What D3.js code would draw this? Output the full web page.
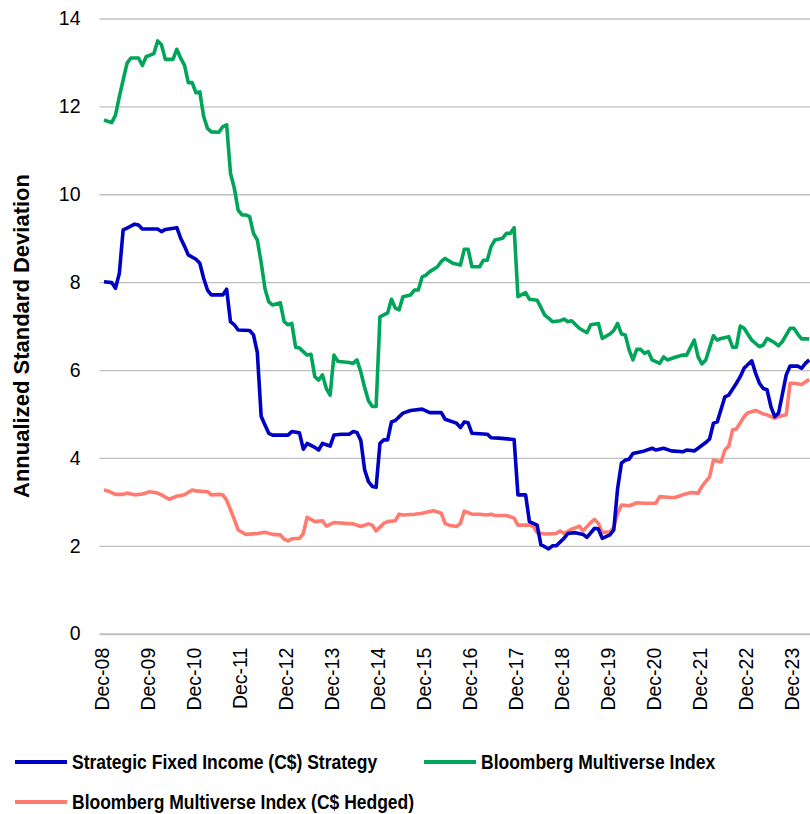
<!DOCTYPE html>
<html>
<head>
<meta charset="utf-8">
<script src="https://cdn.jsdelivr.net/npm/d3@7"></script>
<style>
  html, body { margin: 0; padding: 0; background: #fff; }
  svg { display: block; }
  .tick text { font-family: "Liberation Sans", Arial, sans-serif; fill: #000; }
</style>
</head>
<body>
<div id="app"></div>
<script>
// months counted from Dec-08
var sfiMonths = [0, 2, 3, 4, 5, 6, 8, 9, 10, 14, 15, 16, 19, 20, 21, 22, 24, 25, 26, 27, 28, 31, 32, 33, 34, 35, 38, 39, 40, 41, 42, 43, 44, 48, 49, 51, 52, 53, 55, 56, 57, 59, 60, 62, 64, 65, 66, 67, 68, 69, 70, 71, 72, 73, 74, 75, 76, 78, 80, 83, 85, 88, 89, 91, 92, 93, 94, 95, 96, 100, 101, 103, 107, 108, 110, 111, 113, 114, 115, 116, 117, 118, 120, 121, 123, 125, 126, 128, 129, 130, 132, 133, 134, 135, 136, 137, 138, 141, 143, 144, 146, 148, 151, 152, 154, 155, 157, 158, 159, 160, 162, 163, 165, 166, 167, 169, 170, 171, 172, 173, 174, 175, 176, 177, 178, 179, 181, 182, 183, 184];
var sfiValues = [8.01, 7.99, 7.86, 8.2, 9.19, 9.23, 9.32, 9.3, 9.21, 9.21, 9.15, 9.2, 9.24, 9.0, 8.82, 8.62, 8.52, 8.43, 8.09, 7.82, 7.71, 7.71, 7.84, 7.1, 7.03, 6.91, 6.9, 6.8, 6.4, 4.95, 4.75, 4.56, 4.52, 4.52, 4.6, 4.57, 4.2, 4.33, 4.24, 4.18, 4.33, 4.27, 4.52, 4.54, 4.54, 4.6, 4.58, 4.4, 3.73, 3.46, 3.35, 3.33, 4.33, 4.41, 4.41, 4.82, 4.85, 5.02, 5.08, 5.11, 5.03, 5.03, 4.88, 4.82, 4.79, 4.69, 4.82, 4.8, 4.56, 4.54, 4.46, 4.45, 4.42, 3.16, 3.16, 2.55, 2.47, 2.02, 1.98, 1.93, 2.0, 2.0, 2.17, 2.28, 2.3, 2.26, 2.19, 2.4, 2.38, 2.17, 2.25, 2.36, 3.3, 3.88, 3.95, 3.97, 4.1, 4.16, 4.22, 4.18, 4.22, 4.16, 4.14, 4.18, 4.16, 4.22, 4.35, 4.43, 4.79, 4.82, 5.39, 5.43, 5.7, 5.85, 6.04, 6.21, 5.93, 5.7, 5.58, 5.55, 5.17, 4.94, 5.02, 5.45, 5.89, 6.09, 6.09, 6.04, 6.15, 6.23];

var multiMonths = [0, 2, 3, 4, 6, 7, 9, 10, 11, 13, 14, 15, 16, 18, 19, 20, 21, 22, 23, 24, 25, 26, 27, 28, 30, 31, 32, 33, 34, 35, 36, 37, 38, 39, 40, 41, 42, 43, 44, 46, 47, 48, 49, 50, 51, 53, 54, 55, 56, 57, 58, 59, 60, 61, 62, 64, 65, 66, 67, 68, 69, 70, 71, 72, 74, 75, 76, 77, 78, 80, 81, 82, 83, 84, 85, 87, 88, 89, 91, 93, 94, 95, 96, 98, 99, 100, 101, 102, 104, 105, 106, 107, 108, 110, 111, 113, 115, 116, 117, 119, 120, 121, 122, 124, 126, 127, 129, 130, 132, 133, 134, 135, 136, 137, 138, 139, 140, 141, 142, 143, 145, 146, 147, 149, 151, 152, 154, 155, 156, 157, 159, 160, 161, 163, 164, 165, 166, 167, 169, 171, 172, 173, 175, 176, 177, 179, 180, 181, 182, 184];
var multiValues = [11.69, 11.63, 11.8, 12.22, 12.98, 13.1, 13.1, 12.93, 13.13, 13.2, 13.49, 13.4, 13.07, 13.07, 13.3, 13.1, 12.94, 12.54, 12.54, 12.31, 12.33, 11.77, 11.5, 11.42, 11.41, 11.54, 11.58, 10.48, 10.14, 9.64, 9.53, 9.53, 9.49, 9.11, 8.96, 8.45, 7.85, 7.55, 7.48, 7.53, 7.1, 7.03, 7.06, 6.52, 6.5, 6.34, 6.36, 5.85, 5.77, 5.89, 5.58, 5.43, 6.34, 6.2, 6.19, 6.17, 6.15, 6.23, 5.96, 5.6, 5.3, 5.17, 5.17, 7.21, 7.3, 7.61, 7.41, 7.37, 7.67, 7.71, 7.82, 7.82, 8.12, 8.16, 8.24, 8.35, 8.47, 8.54, 8.43, 8.39, 8.75, 8.75, 8.35, 8.35, 8.5, 8.5, 8.81, 8.96, 9.0, 9.11, 9.11, 9.24, 7.67, 7.76, 7.61, 7.59, 7.25, 7.18, 7.1, 7.12, 7.16, 7.1, 7.12, 6.95, 6.85, 7.03, 7.06, 6.72, 6.82, 6.9, 7.06, 6.82, 6.8, 6.46, 6.23, 6.47, 6.47, 6.38, 6.42, 6.23, 6.15, 6.3, 6.23, 6.29, 6.34, 6.34, 6.68, 6.3, 6.14, 6.23, 6.78, 6.68, 6.72, 6.76, 6.52, 6.52, 7.0, 6.95, 6.68, 6.53, 6.57, 6.72, 6.62, 6.55, 6.65, 6.95, 6.95, 6.82, 6.71, 6.71];

var hedgedMonths = [0, 1, 3, 5, 6, 8, 10, 12, 14, 15, 17, 19, 21, 23, 24, 27, 28, 30, 31, 32, 33, 34, 35, 37, 40, 42, 44, 46, 47, 48, 49, 51, 52, 53, 55, 57, 58, 60, 63, 65, 67, 69, 70, 71, 73, 74, 76, 77, 78, 81, 83, 85, 86, 88, 89, 90, 92, 93, 94, 96, 98, 100, 101, 102, 105, 106, 107, 108, 111, 112, 113, 115, 118, 119, 120, 122, 123, 124, 125, 127, 128, 129, 130, 132, 133, 134, 135, 137, 138, 139, 141, 144, 145, 148, 149, 151, 153, 155, 156, 158, 159, 161, 162, 163, 164, 165, 167, 168, 170, 172, 173, 175, 176, 178, 179, 180, 182, 183, 184];
var hedgedValues = [3.27, 3.25, 3.17, 3.17, 3.2, 3.16, 3.18, 3.23, 3.2, 3.16, 3.06, 3.13, 3.16, 3.27, 3.25, 3.23, 3.16, 3.17, 3.16, 3.04, 2.82, 2.6, 2.36, 2.26, 2.28, 2.31, 2.26, 2.25, 2.15, 2.11, 2.16, 2.17, 2.28, 2.65, 2.55, 2.57, 2.45, 2.53, 2.51, 2.5, 2.44, 2.5, 2.47, 2.34, 2.51, 2.55, 2.57, 2.72, 2.7, 2.72, 2.74, 2.78, 2.8, 2.74, 2.51, 2.47, 2.44, 2.51, 2.79, 2.72, 2.72, 2.7, 2.72, 2.69, 2.69, 2.66, 2.63, 2.47, 2.47, 2.44, 2.3, 2.27, 2.28, 2.34, 2.28, 2.38, 2.41, 2.45, 2.34, 2.53, 2.6, 2.51, 2.3, 2.32, 2.42, 2.74, 2.93, 2.91, 2.94, 2.98, 2.97, 2.97, 3.12, 3.1, 3.1, 3.16, 3.21, 3.2, 3.35, 3.57, 3.95, 3.91, 4.18, 4.27, 4.64, 4.66, 4.94, 5.03, 5.08, 5.0, 4.98, 4.9, 4.94, 4.98, 5.7, 5.7, 5.67, 5.73, 5.79];

var tickMonths = [0, 12, 24, 36, 48, 60, 72, 84, 96, 108, 120, 132, 144, 156, 168, 180];
var tickLabels = ['Dec-08', 'Dec-09', 'Dec-10', 'Dec-11', 'Dec-12', 'Dec-13', 'Dec-14', 'Dec-15', 'Dec-16', 'Dec-17', 'Dec-18', 'Dec-19', 'Dec-20', 'Dec-21', 'Dec-22', 'Dec-23'];
var yTicks = [0, 2, 4, 6, 8, 10, 12, 14];

var seriesNames = ['Strategic Fixed Income (C$) Strategy', 'Bloomberg Multiverse Index', 'Bloomberg Multiverse Index (C$ Hedged)'];
var seriesColors = ['#0000c4', '#00a55a', '#ff7b70'];

var width = 810, height = 814;
var left = 99.5;

var svg = d3.select('#app')
    .append('svg')
    .attr('width', width)
    .attr('height', height);

var x = d3.scaleLinear()
    .domain([0, 184.2])
    .range([104, 810]);

var y = d3.scaleLinear()
    .domain([0, 14])
    .range([633.7, 18.5]);

// y axis + gridlines
var yAxis = svg.append('g')
    .attr('transform', 'translate(' + left + ',0)')
    .call(d3.axisLeft(y)
        .tickValues(yTicks)
        .tickSize(-(width - left))
        .tickPadding(19)
        .tickFormat(d3.format('d')));
yAxis.select('.domain').remove();
yAxis.selectAll('.tick line')
    .attr('stroke', '#c0c0c0')
    .attr('stroke-width', function (d) { return d === 0 ? 2 : 1.3 });
yAxis.selectAll('.tick text')
    .style('font-size', '19.5px');

// x axis labels
var xAxis = svg.append('g')
    .attr('transform', 'translate(0,' + y(0) + ')')
    .call(d3.axisBottom(x)
        .tickValues(tickMonths)
        .tickSize(0)
        .tickFormat(function (d, i) { return tickLabels[i] }));
xAxis.select('.domain').remove();
xAxis.selectAll('.tick text')
    .style('font-size', '19.5px')
    .attr('text-anchor', 'end')
    .attr('transform', 'rotate(-90)')
    .attr('x', -14)
    .attr('y', -2)
    .attr('dy', '0.35em');

svg.append('text')
    .attr('transform', 'translate(28.5,336) rotate(-90)')
    .attr('text-anchor', 'middle')
    .style('font-family', '"Liberation Sans", Arial, sans-serif')
    .style('font-weight', 'bold')
    .style('font-size', '22px')
    .text('Annualized Standard Deviation');

var line = d3.line()
    .x(function (d) { return x(d[0]) })
    .y(function (d) { return y(d[1]) });

function zipSeries(months, values) {
    return months.map(function (m, i) { return [m, values[i]] });
}

var series = [
    zipSeries(sfiMonths, sfiValues),
    zipSeries(multiMonths, multiValues),
    zipSeries(hedgedMonths, hedgedValues)
];

svg.append('clipPath')
    .attr('id', 'plotClip')
    .append('rect')
    .attr('x', left).attr('y', 0)
    .attr('width', width - left).attr('height', height);

// draw order: hedged, multiverse, then strategy on top
[2, 1, 0].forEach(function (k) {
    svg.append('path')
        .attr('clip-path', 'url(#plotClip)')
        .attr('d', line(series[k]))
        .attr('fill', 'none')
        .attr('stroke', seriesColors[k])
        .attr('stroke-width', 3.6)
        .attr('stroke-linejoin', 'round');
});

// legend (narrow bold look: squeeze the text horizontally)
var legendPos = [[15, 762], [424, 762], [15, 802]];
var legend = svg.selectAll('.legend')
    .data(seriesNames)
    .enter()
    .append('g')
    .attr('class', 'legend')
    .attr('transform', function (d, i) { return 'translate(' + legendPos[i][0] + ',' + legendPos[i][1] + ')' });
legend.append('line')
    .attr('x1', 0).attr('x2', 52)
    .attr('y1', 0).attr('y2', 0)
    .attr('stroke', function (d, i) { return seriesColors[i] })
    .attr('stroke-width', 4);
legend.append('text')
    .attr('transform', 'translate(57,7) scale(0.875,1)')
    .style('font-family', '"Liberation Sans", Arial, sans-serif')
    .style('font-weight', 'bold')
    .style('font-size', '20px')
    .text(function (d) { return d });
</script>
</body>
</html>
